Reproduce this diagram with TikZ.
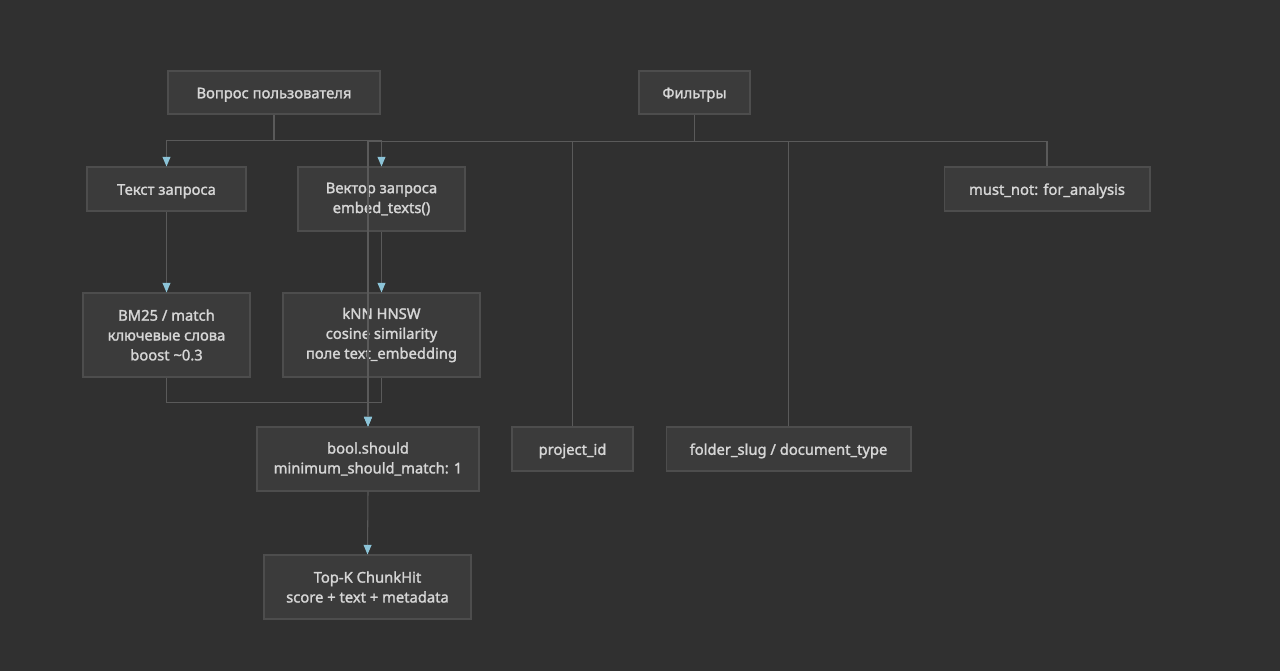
\documentclass[tikz,border=0pt]{standalone}
\usepackage{fontspec}
\setmainfont{Noto Sans}
\newfontfamily\boxfont{Noto Sans}[FakeBold=1.6]
\usetikzlibrary{arrows.meta}

\definecolor{bgdark}{HTML}{303030}
\definecolor{boxfill}{HTML}{3B3B3B}
\definecolor{boxline}{HTML}{4D4D4D}
\definecolor{boxtext}{HTML}{D6D6D6}
\definecolor{wire}{HTML}{5A5A5A}
\definecolor{tipblue}{HTML}{8CC4D8}

\tikzset{
    box/.style={draw=boxline, fill=boxfill, text=boxtext, line width=0.6pt,
        inner sep=0pt, align=center,
        font=\boxfont\fontsize{8.4}{11.3}\selectfont,
        execute at begin node={\rule{0pt}{8.6pt}}},
    wireline/.style={draw=wire, line width=0.6pt},
    flow/.style={wireline, -{Triangle[length=5.5pt, width=4.5pt, color=tipblue]}}
}

\begin{document}
\begin{tikzpicture}[x=0.02cm, y=-0.02cm]
    \fill[bgdark] (0,0) rectangle (1280,671);
    \useasboundingbox (0,0) rectangle (1280,671);

    \node[box, minimum width=4.24cm, minimum height=0.86cm] (question) at (274,92.5) {Вопрос пользователя};
    \node[box, minimum width=2.22cm, minimum height=0.86cm] (filters) at (694.5,92.5) {Фильтры};

    \node[box, minimum width=3.18cm, minimum height=0.88cm] (querytext) at (166.5,189) {Текст запроса};
    \node[box, minimum width=3.34cm, minimum height=1.28cm] (queryvec) at (381.5,199) {Вектор запроса\\embed\_texts()};
    \node[box, minimum width=4.12cm, minimum height=0.88cm] (mustnot) at (1047,189) {must\_not: for\_analysis};

    \node[box, minimum width=3.34cm, minimum height=1.68cm] (bmmatch) at (166.5,335) {BM25 / match\\ключевые слова\\boost \textasciitilde0.3};
    \node[box, minimum width=3.94cm, minimum height=1.68cm] (knn) at (381.5,335) {kNN HNSW\\cosine similarity\\поле text\_embedding};

    \node[box, minimum width=4.44cm, minimum height=1.28cm] (boolshould) at (368,459) {bool.should\\minimum\_should\_match: 1};
    \node[box, minimum width=2.42cm, minimum height=0.88cm] (projectid) at (572.5,449) {project\_id};
    \node[box, minimum width=4.90cm, minimum height=0.88cm] (folderslug) at (788.5,449) {folder\_slug / document\_type};

    \node[box, minimum width=4.14cm, minimum height=1.28cm] (topk) at (367.5,587) {Top-K ChunkHit\\score + text + metadata};

    \draw[flow] (question.south) -- ++(0,26) -| (querytext.north);
    \draw[flow] (question.south) -- ++(0,26) -| (queryvec.north);

    \draw[flow] (filters.south) -- ++(0,27) -| (boolshould.north);
    \draw[wireline] (filters.south) -- ++(0,27) -| (projectid.north);
    \draw[wireline] (filters.south) -- ++(0,27) -| (folderslug.north);
    \draw[wireline] (filters.south) -- ++(0,27) -| (mustnot.north);

    \draw[flow] (querytext.south) -- (bmmatch.north);
    \draw[flow] (queryvec.south) -- (knn.north);

    \draw[flow] (bmmatch.south) -- ++(0,25) -| (boolshould.north);
    \draw[flow] (knn.south) -- ++(0,25) -| (boolshould.north);

    \draw[flow] (boolshould.south) -- (topk.north);
\end{tikzpicture}
\end{document}
